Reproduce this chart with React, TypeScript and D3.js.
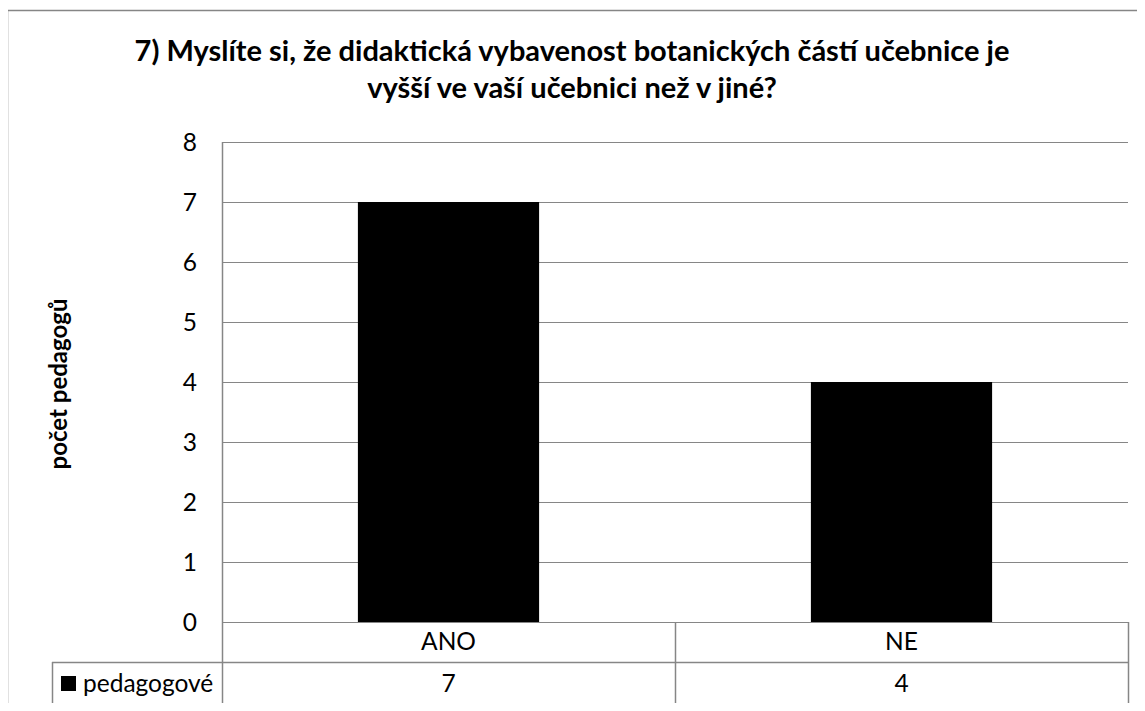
import React from "react";
import * as d3 from "d3";

const categories: string[] = ["ANO", "NE"];
const values: number[] = [7, 4];
const seriesName = "pedagogové";
const yTicks: number[] = [0, 1, 2, 3, 4, 5, 6, 7, 8];
const titleLines: string[] = [
  "7) Myslíte si, že didaktická vybavenost botanických částí učebnice je",
  "vyšší ve vaší učebnici než v jiné?",
];
const yAxisTitle = "počet pedagogů";

const W = 1145;
const H = 711;
const FONT = "Lato, 'Open Sans', sans-serif";
const FS = 24.5;

export default function App() {
  const plotLeft = 222;
  const plotRight = 1128;
  const plotTop = 142;
  const plotBottom = 622;
  const row1Bottom = 662;
  const row2Bottom = 704;
  const legendLeft = 52;

  const y = d3.scaleLinear().domain([0, 8]).range([plotBottom, plotTop]);
  const x = d3.scaleBand<string>().domain(categories).range([plotLeft, plotRight]).padding(0);
  const bw = x.bandwidth() * 0.4;
  const grid = "#868686";

  return (
    <div style={{ margin: -8 }}>
      <svg width={W} height={H} style={{ display: "block", background: "#fff" }}>
        <rect x={0} y={0} width={W} height={H} fill="#fff" />
        {/* outer frame */}
        <path d={`M7.5,${H + 5} V10.5 H${W + 5}`} fill="none" stroke={grid} strokeWidth={1.5} />
        {/* title */}
        <text x={572} textAnchor="middle" fontFamily={FONT} fontWeight={700} fontSize={29} fill="#000">
          <tspan x={572} y={61}>{titleLines[0]}</tspan>
          <tspan x={572} y={98}>{titleLines[1]}</tspan>
        </text>
        {/* gridlines */}
        {yTicks.map((t) => (
          <line key={t} x1={plotLeft} x2={plotRight} y1={Math.round(y(t)) + 0.5} y2={Math.round(y(t)) + 0.5} stroke={grid} strokeWidth={1} />
        ))}
        {/* tick labels */}
        {yTicks.map((t) => (
          <text key={"l" + t} x={197} y={y(t) + 8.5} textAnchor="end" fontFamily={FONT} fontSize={FS} fill="#000">
            {t}
          </text>
        ))}
        {/* bars */}
        {categories.map((c, i) => (
          <rect
            key={c}
            x={(x(c) as number) + (x.bandwidth() - bw) / 2}
            y={y(values[i])}
            width={bw}
            height={y(0) - y(values[i])}
            fill="#000"
          />
        ))}
        {/* axis line */}
        <line x1={plotLeft + 0.5} x2={plotLeft + 0.5} y1={plotTop} y2={row2Bottom} stroke={grid} strokeWidth={1.5} />
        {/* table */}
        <line x1={legendLeft} x2={plotRight} y1={row1Bottom + 0.5} y2={row1Bottom + 0.5} stroke={grid} strokeWidth={1.5} />
        <line x1={legendLeft} x2={plotRight} y1={row2Bottom + 0.5} y2={row2Bottom + 0.5} stroke={grid} strokeWidth={1.5} />
        <line x1={legendLeft + 0.5} x2={legendLeft + 0.5} y1={row1Bottom} y2={row2Bottom} stroke={grid} strokeWidth={1.5} />
        <line x1={plotRight + 0.5} x2={plotRight + 0.5} y1={plotBottom} y2={row2Bottom} stroke={grid} strokeWidth={1.5} />
        {categories.map((c, i) =>
          i > 0 ? (
            <line key={"sep" + c} x1={(x(c) as number) + 0.5} x2={(x(c) as number) + 0.5} y1={plotBottom} y2={row2Bottom} stroke={grid} strokeWidth={1.5} />
          ) : null
        )}
        {categories.map((c) => (
          <text key={"c" + c} x={(x(c) as number) + x.bandwidth() / 2} y={650} textAnchor="middle" fontFamily={FONT} fontSize={FS} fill="#000">
            {c}
          </text>
        ))}
        {categories.map((c, i) => (
          <text key={"v" + c} x={(x(c) as number) + x.bandwidth() / 2} y={692} textAnchor="middle" fontFamily={FONT} fontSize={FS} fill="#000">
            {values[i]}
          </text>
        ))}
        {/* legend key */}
        <rect x={61} y={676} width={15} height={15} fill="#000" />
        <text x={83} y={692} fontFamily={FONT} fontSize={FS} fill="#000">
          {seriesName}
        </text>
        {/* y axis title */}
        <text
          transform={`translate(67,384) rotate(-90)`}
          textAnchor="middle"
          fontFamily={FONT}
          fontWeight={700}
          fontSize={24}
          fill="#000"
        >
          {yAxisTitle}
        </text>
      </svg>
    </div>
  );
}
